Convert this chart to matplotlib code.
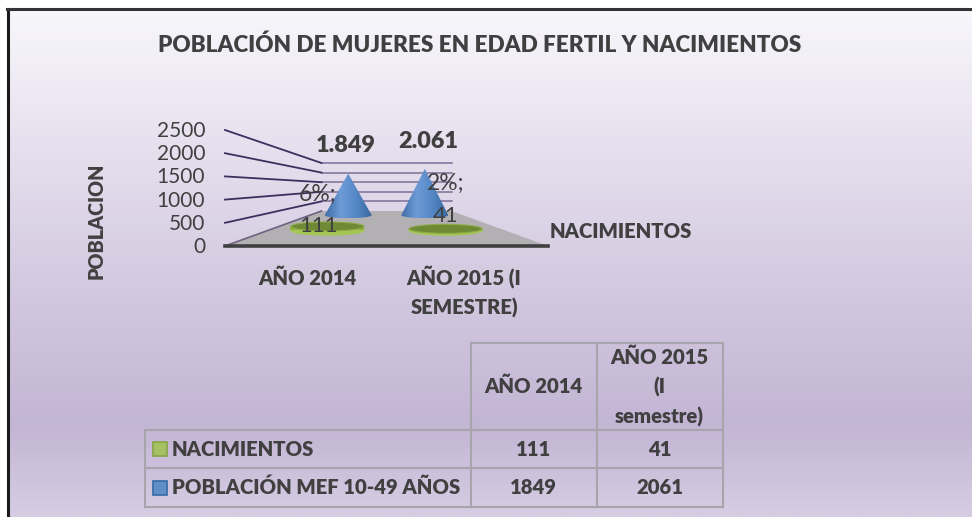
import numpy as np
import matplotlib
matplotlib.use("Agg")
import matplotlib.pyplot as plt
from matplotlib.colors import LinearSegmentedColormap
from matplotlib.patches import Ellipse, Polygon, Rectangle

plt.rcParams['font.family'] = ['Lato', 'DejaVu Sans']

TITLE = "POBLACIÓN DE MUJERES EN EDAD FERTIL Y NACIMIENTOS"
CATEGORIES = ["AÑO 2014", "AÑO 2015 (I\nSEMESTRE)"]
TABLE_HEADERS = ["AÑO 2014", "AÑO 2015\n(I\nsemestre)"]
NACIMIENTOS = [111, 41]
POBLACION = [1849, 2061]
PORCENTAJE = ["6%;", "2%;"]
LABELS_POBLACION = ["1.849", "2.061"]
Y_TICKS = [0, 500, 1000, 1500, 2000, 2500]
SERIES_NAMES = ["NACIMIENTOS", "POBLACIÓN MEF 10-49 AÑOS"]

TEXT = "#404040"
WEIGHT = 800
W, H = 972, 517

fig = plt.figure(figsize=(W / 100, H / 100), dpi=100)
ax = fig.add_axes([0, 0, 1, 1])
ax.set_xlim(0, W)
ax.set_ylim(H, 0)
ax.axis("off")


# 3d look: u is -1..1 across the floor, d is 0 (front) to 1 (back)
def project(u, d, v=0):
    half = 161.5 - 96.5 * d
    y0 = 246 - 35 * d
    return 386.5 + u * half, y0 - v * (116 - 68 * d) / 2500


# background
stops = [(0.0, "#f8f7fb"), (0.2, "#ebe6f2"), (0.55, "#d3c9e0"), (0.82, "#c3b5d4"), (1.0, "#d6cde3")]
bg_cmap = LinearSegmentedColormap.from_list("bg", stops)
ax.imshow(np.linspace(0, 1, 256).reshape(-1, 1), cmap=bg_cmap, extent=[8, W, H, 9],
          aspect="auto", zorder=0)
ax.set_xlim(0, W)
ax.set_ylim(H, 0)
ax.plot([7.5, 7.5], [9, H], color="#1a1a1a", lw=2.2, zorder=1)
ax.plot([7, W], [9, 9], color="#333333", lw=2.2, zorder=1)

# floor
floor = [project(-1, 0), project(1, 0), project(1, 1), project(-1, 1)]
ax.add_patch(Polygon(floor, closed=True, fc="#b3b0b4", ec="none", zorder=2))

# walls
for t in Y_TICKS[1:]:
    x0, y0 = project(-1, 0, t)
    x1, y1 = project(-1, 1, t)
    x2, y2 = project(1, 1, t)
    ax.plot([x1, x2], [y1, y2], color="#7d6f96", lw=1.1, zorder=2)
    ax.plot([x0, x1], [y0, y1], color="#3c2f5e", lw=1.3, zorder=2)
x0, y0 = project(-1, 0)
x1, y1 = project(-1, 1)
ax.plot([x0, x1], [y0, y1], color="#6d6380", lw=1.2, zorder=2)
x2, y2 = project(1, 0)
ax.plot([x0, x2], [y0, y0], color="#404040", lw=2.6, zorder=3)

# nacimientos, flat discs
DISC_D = 0.45
for i, val in enumerate(NACIMIENTOS):
    u = -0.5 if i == 0 else 0.5
    xc, yb = project(u, DISC_D)
    _, yt = project(u, DISC_D, val)
    ax.add_patch(Ellipse((xc, yb + 0.5), 74, 10, fc="#a3c655", ec="none", zorder=4))
    ax.add_patch(Rectangle((xc - 37, yt), 74, yb - yt, fc="#8fb040", ec="none", zorder=4))
    ax.add_patch(Ellipse((xc, yt), 73, 9, fc="#6f8a35", ec="#8eab45", lw=0.8, zorder=5))

# poblacion, cones with horizontal gradient
cone_cmap = LinearSegmentedColormap.from_list("cone", ["#3f6ea8", "#6e9bd6", "#5488c6", "#3a689f"])
CONE_D = 0.88
for i, val in enumerate(POBLACION):
    u = -0.5 if i == 0 else 0.5
    xc, yb = project(u, CONE_D)
    xa, ya = project(u, CONE_D, val)
    grad = ax.imshow(np.linspace(0, 1, 64).reshape(1, -1), cmap=cone_cmap,
                     extent=[xc - 23.5, xc + 23.5, yb + 3, ya], aspect="auto", zorder=6)
    arc = np.linspace(0, np.pi, 20)
    outline = [(xa, ya)] + [(xc + 23.5 * np.cos(a), yb + 3 * np.sin(a)) for a in arc]
    clip = Polygon(outline, closed=True, transform=ax.transData, fc="none", ec="none")
    ax.add_patch(clip)
    grad.set_clip_path(clip)
ax.set_xlim(0, W)
ax.set_ylim(H, 0)

# text
BOLD = 14.6
ax.text(480, 45, TITLE, ha="center", va="center", fontsize=16.2, fontweight=WEIGHT, color=TEXT, zorder=8)
ax.text(96, 221, "POBLACION", rotation=90, ha="center", va="center", fontsize=14.2,
        fontweight=WEIGHT, color=TEXT, zorder=8)
for t in Y_TICKS:
    _, ty = project(-1, 0, t)
    ax.text(205, ty + 1, str(t), ha="right", va="center", fontsize=15, color=TEXT, zorder=8)

ax.text(346, 146, LABELS_POBLACION[0], ha="center", va="center", fontsize=16.8, fontweight=WEIGHT, color=TEXT, zorder=8)
ax.text(428, 142, LABELS_POBLACION[1], ha="center", va="center", fontsize=16.8, fontweight=WEIGHT, color=TEXT, zorder=8)
ax.text(318, 194, PORCENTAJE[0], ha="center", va="center", fontsize=16.5, color=TEXT, zorder=8)
ax.text(446, 183, PORCENTAJE[1], ha="center", va="center", fontsize=16.5, color=TEXT, zorder=8)
ax.text(319, 226, str(NACIMIENTOS[0]), ha="center", va="center", fontsize=16, color=TEXT, zorder=8)
ax.text(446, 216, str(NACIMIENTOS[1]), ha="center", va="center", fontsize=16, color=TEXT, zorder=8)

ax.text(307, 278, CATEGORIES[0], ha="center", va="center", fontsize=BOLD, fontweight=WEIGHT, color=TEXT, zorder=8)
ax.text(464, 292, CATEGORIES[1], ha="center", va="center", fontsize=BOLD, fontweight=WEIGHT, color=TEXT,
        linespacing=1.6, zorder=8)
ax.text(550, 231, SERIES_NAMES[0], ha="left", va="center", fontsize=BOLD, fontweight=WEIGHT, color=TEXT, zorder=8)

# data table
GRID = "#a8a4ac"
col_x = [144.5, 470.5, 596.5, 722.5]
row_y = [342.5, 430, 468, 507]
for x in col_x[1:]:
    ax.plot([x, x], [row_y[0], row_y[-1]], color=GRID, lw=1.5, zorder=3)
ax.plot([col_x[0], col_x[0]], [row_y[1], row_y[-1]], color=GRID, lw=1.5, zorder=3)
ax.plot([col_x[1], col_x[-1]], [row_y[0], row_y[0]], color=GRID, lw=1.5, zorder=3)
for y in row_y[1:]:
    ax.plot([col_x[0], col_x[-1]], [y, y], color=GRID, lw=1.5, zorder=3)

ax.text(533.5, 386, TABLE_HEADERS[0], ha="center", va="center", fontsize=BOLD, fontweight=WEIGHT, color=TEXT, zorder=8)
ax.text(659.5, 387, TABLE_HEADERS[1], ha="center", va="center", fontsize=BOLD, fontweight=WEIGHT, color=TEXT,
        linespacing=1.6, zorder=8)

key_colors = [("#a4c264", "#8aa84c"), ("#5f8ec6", "#3f6ea8")]
for r, (name, vals) in enumerate(zip(SERIES_NAMES, [NACIMIENTOS, POBLACION])):
    yc = (row_y[r + 1] + row_y[r + 2]) / 2
    fc, ec = key_colors[r]
    ax.add_patch(Rectangle((152.5, yc - 7), 14, 14, fc=fc, ec=ec, lw=1.3, zorder=5))
    ax.text(172, yc, name, ha="left", va="center", fontsize=BOLD, fontweight=WEIGHT, color=TEXT, zorder=8)
    for c, v in enumerate(vals):
        ax.text((col_x[c + 1] + col_x[c + 2]) / 2, yc, str(v), ha="center", va="center", fontsize=BOLD,
                fontweight=WEIGHT, color=TEXT, zorder=8)

fig.savefig("out.png", dpi=100)
